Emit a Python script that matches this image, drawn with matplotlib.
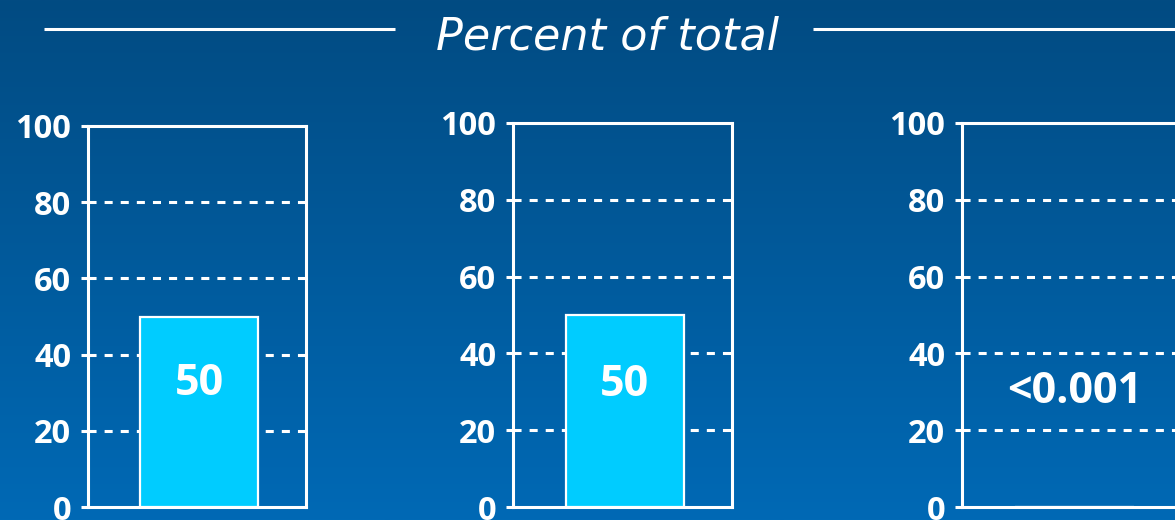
import numpy as np
import matplotlib
matplotlib.use("Agg")
import matplotlib.pyplot as plt
from matplotlib.colors import LinearSegmentedColormap

plt.rcParams['font.family'] = ['Open Sans', 'DejaVu Sans']
plt.rcParams['lines.scale_dashes'] = False

# Werte je Panel: Anteil in Prozent und die angezeigte Beschriftung
values = [50, 50, 0.001]
value_labels = ['50', '50', '<0.001']
label_y = [29.5, 29.0, 27.0]
y_ticks = [0, 20, 40, 60, 80, 100]
title = 'Percent of total'

bar_color = '#00CCFF'
white = '#FFFFFF'

fig = plt.figure(figsize=(11.75, 5.2), dpi=100)

# Hintergrund mit vertikalem Blauverlauf
bg = fig.add_axes([0, 0, 1, 1], zorder=-10)
grad = np.linspace(0, 1, 256).reshape(-1, 1)
cmap = LinearSegmentedColormap.from_list('bg', ['#024B82', '#0069B5'])
bg.imshow(grad, aspect='auto', cmap=cmap, extent=[0, 1, 0, 1], origin='upper')
bg.set_axis_off()

# Titel mit Linien links und rechts
fig.text(0.5174, 1 - 49 / 520, title, ha='center', va='baseline', color=white,
         fontsize=32, fontstyle='italic', family=['DejaVu Sans'])
bg.plot([44 / 1175, 395 / 1175], [1 - 29 / 520] * 2, color=white, lw=2.2,
        solid_capstyle='butt')
bg.plot([813 / 1175, 1.0], [1 - 29 / 520] * 2, color=white, lw=2.2,
        solid_capstyle='butt')
bg.set_xlim(0, 1)
bg.set_ylim(0, 1)

panels = [
    [88 / 1175, 0.025, 218 / 1175, 381 / 520],
    [513 / 1175, 0.025, 219 / 1175, 384 / 520],
    [962 / 1175, 0.025, 220 / 1175, 384 / 520],
]

for rect, val, txt, ly in zip(panels, values, value_labels, label_y):
    ax = fig.add_axes(rect)
    ax.set_facecolor('none')
    ax.set_xlim(0, 1)
    ax.set_ylim(0, 100)
    ax.bar(0.51, val, width=0.54, color=bar_color, edgecolor=white,
           linewidth=1.6, zorder=3)
    ax.text(0.51, ly, txt, ha='center', va='baseline', color=white,
            fontsize=31, fontweight='bold', zorder=4)
    for t in y_ticks[1:-1]:
        ax.axhline(t, color=white, lw=2.2, linestyle=(0, (5.8, 5.8)), zorder=1)
    for s in ax.spines.values():
        s.set_color(white)
        s.set_linewidth(2.2)
    ax.set_xticks([])
    ax.set_yticks(y_ticks)
    ax.tick_params(axis='y', colors=white, length=5, width=2.2,
                   labelsize=23.5, pad=7)
    for lab in ax.get_yticklabels():
        lab.set_fontweight('bold')

fig.savefig('out.png', dpi=100)
